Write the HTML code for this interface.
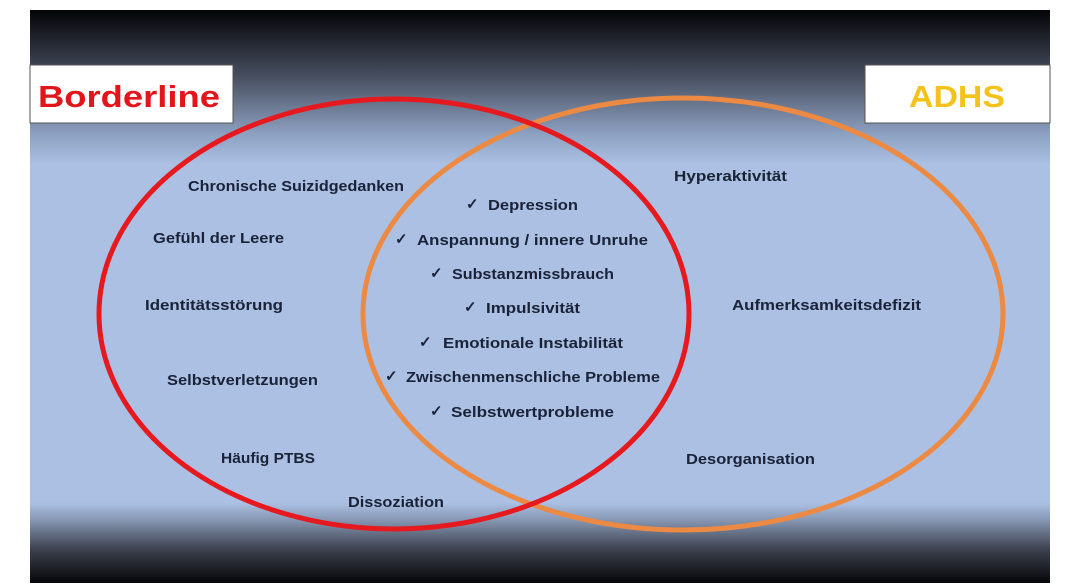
<!DOCTYPE html>
<html><head><meta charset="utf-8"><style>
html,body{margin:0;padding:0;background:#fff;width:1080px;height:586px;overflow:hidden}
svg{display:block;font-family:"Liberation Sans",sans-serif;font-weight:bold}
</style></head><body>
<svg width="1080" height="586" viewBox="0 0 1080 586" xmlns="http://www.w3.org/2000/svg">
<defs>
<linearGradient id="bg" x1="0" y1="0" x2="0" y2="1">
<stop offset="0" stop-color="#050507"/>
<stop offset="0.04" stop-color="#1a1d25"/>
<stop offset="0.12" stop-color="#4a5263"/>
<stop offset="0.22" stop-color="#8fa3c4"/>
<stop offset="0.27" stop-color="#abc0e3"/>
<stop offset="0.86" stop-color="#abc0e3"/>
<stop offset="0.89" stop-color="#8797b3"/>
<stop offset="0.94" stop-color="#3e4350"/>
<stop offset="1" stop-color="#060608"/>
</linearGradient>
</defs>
<rect x="30" y="10" width="1020" height="573" fill="url(#bg)"/>
<rect x="30" y="65" width="203" height="58" fill="#fff" stroke="#555" stroke-width="1"/>
<rect x="865" y="65" width="185" height="58" fill="#fff" stroke="#555" stroke-width="1"/>
<text x="38" y="107" font-size="31" fill="#e3151a" textLength="182" lengthAdjust="spacingAndGlyphs">Borderline</text>
<text x="909" y="107" font-size="31" fill="#f5c21b" textLength="96" lengthAdjust="spacingAndGlyphs">ADHS</text>
<ellipse cx="683" cy="314" rx="320" ry="216" fill="none" stroke="#ec8a44" stroke-width="5"/>
<ellipse cx="394" cy="314" rx="295" ry="215" fill="none" stroke="#e5191e" stroke-width="5"/>
<g font-size="15" fill="#1a2238" lengthAdjust="spacingAndGlyphs">
<text x="188" y="191" textLength="216" lengthAdjust="spacingAndGlyphs">Chronische Suizidgedanken</text>
<text x="153" y="243" textLength="131" lengthAdjust="spacingAndGlyphs">Gefühl der Leere</text>
<text x="145" y="310" textLength="138" lengthAdjust="spacingAndGlyphs">Identitätsstörung</text>
<text x="167" y="385" textLength="151" lengthAdjust="spacingAndGlyphs">Selbstverletzungen</text>
<text x="221" y="463" textLength="94" lengthAdjust="spacingAndGlyphs">Häufig PTBS</text>
<text x="348" y="507" textLength="96" lengthAdjust="spacingAndGlyphs">Dissoziation</text>
<text x="466" y="209">✓</text><text x="488" y="210" textLength="90" lengthAdjust="spacingAndGlyphs">Depression</text>
<text x="395" y="244">✓</text><text x="417" y="245" textLength="231" lengthAdjust="spacingAndGlyphs">Anspannung / innere Unruhe</text>
<text x="430" y="278">✓</text><text x="452" y="279" textLength="162" lengthAdjust="spacingAndGlyphs">Substanzmissbrauch</text>
<text x="464" y="312">✓</text><text x="486" y="313" textLength="94" lengthAdjust="spacingAndGlyphs">Impulsivität</text>
<text x="419" y="347">✓</text><text x="443" y="348" textLength="180" lengthAdjust="spacingAndGlyphs">Emotionale Instabilität</text>
<text x="385" y="381">✓</text><text x="406" y="382" textLength="254" lengthAdjust="spacingAndGlyphs">Zwischenmenschliche Probleme</text>
<text x="430" y="416">✓</text><text x="451" y="417" textLength="163" lengthAdjust="spacingAndGlyphs">Selbstwertprobleme</text>
<text x="674" y="181" textLength="113" lengthAdjust="spacingAndGlyphs">Hyperaktivität</text>
<text x="732" y="310" textLength="189" lengthAdjust="spacingAndGlyphs">Aufmerksamkeitsdefizit</text>
<text x="686" y="464" textLength="129" lengthAdjust="spacingAndGlyphs">Desorganisation</text>
</g>
</svg>
</body></html>
